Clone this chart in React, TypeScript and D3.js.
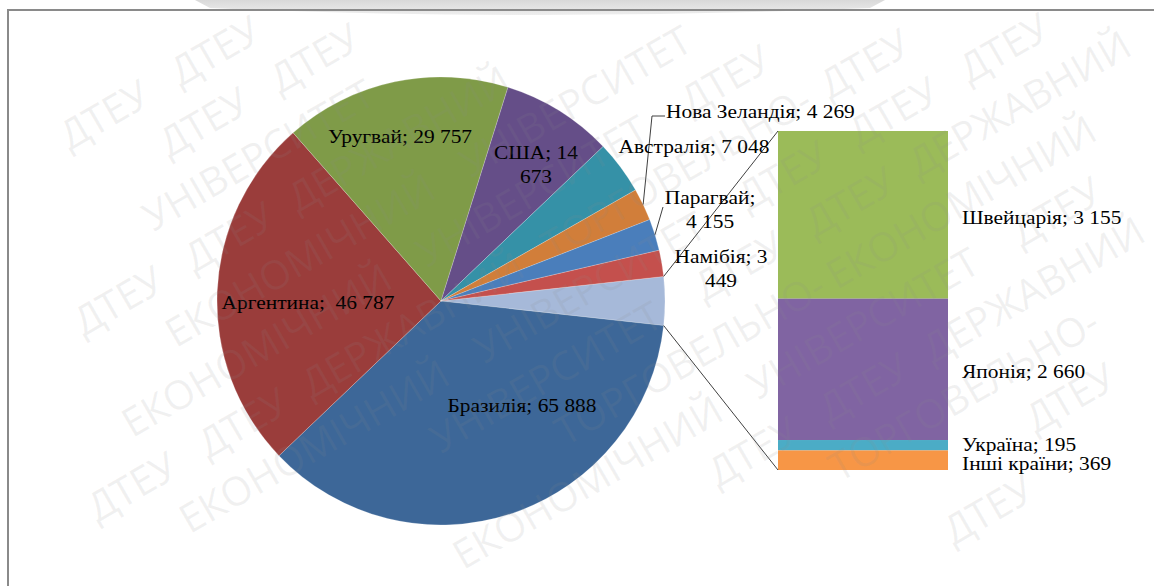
import React from "react";
import * as d3 from "d3";

const countries = ["Бразилія", "Аргентина", "Уругвай", "США", "Австралія", "Нова Зеландія", "Парагвай", "Намібія"];
const values = [65888, 46787, 29757, 14673, 7048, 4269, 4155, 3449];
const pieColors = ["#3D6798", "#9A3D3B", "#7F9B48", "#654E88", "#3591A7", "#D17E3A", "#4A7EBB", "#C4504D"];
const otherColor = "#A6B9D9";

const otherCountries = ["Швейцарія", "Японія", "Україна", "Інші країни"];
const otherValues = [3155, 2660, 195, 369];
const barColors = ["#9BBB59", "#8064A2", "#4BACC6", "#F79646"];

const watermarkWords = ["ДТЕУ", "ДТЕУ", "ДЕРЖАВНИЙ", "ТОРГОВЕЛЬНО-", "ЕКОНОМІЧНИЙ", "УНІВЕРСИТЕТ"];

// layout (positions of labels, not data)
const pieLabelLayout = [
  { x: 522, y: 406, anchor: "middle", split: 0, sep: "; " },
  { x: 308, y: 303, anchor: "middle", split: 0, sep: ";  " },
  { x: 400, y: 137, anchor: "middle", split: 0, sep: "; " },
  { x: 536, y: 153, anchor: "middle", split: 7, sep: "; " },
  { x: 694, y: 147, anchor: "middle", split: 0, sep: "; " },
  { x: 666, y: 112, anchor: "start", split: 0, sep: "; ", leader: true },
  { x: 710, y: 198, anchor: "middle", split: 9, sep: "; ", leader: true },
  { x: 721, y: 257, anchor: "middle", split: 10, sep: "; " },
];
const barLabelLayout = [
  { x: 962, y: 218 },
  { x: 962, y: 372 },
  { x: 962, y: 445 },
  { x: 962, y: 464 },
];

const W = 1154, H = 586;
const cx = 441, cy = 301, R = 224;
const barX = 778, barW = 170, barTop = 131, barBottom = 470;
const FONT = "'Liberation Serif', 'Times New Roman', serif";
const SX = 1.19;

const loc = d3.formatLocale({ decimal: ",", thousands: " ", grouping: [3], currency: ["", ""] });
const fmt = loc.format(",d");

function watermark() {
  const th = (-30 * Math.PI) / 180;
  const fs = 40;
  const cw = fs * 0.68;
  const out: { x: number; y: number; t: string }[] = [];
  const fits = (u: number, v: number, t: string) => {
    const w = t.length * cw;
    const uc = u + w / 2;
    const x = W / 2 + uc * Math.cos(th) - v * Math.sin(th);
    const y = H / 2 + uc * Math.sin(th) + v * Math.cos(th);
    const hx = Math.abs((w / 2) * Math.cos(th)) + Math.abs((fs / 2.8) * Math.sin(th));
    const hy = Math.abs((w / 2) * Math.sin(th)) + Math.abs((fs / 2.8) * Math.cos(th));
    return { ok: x - hx > 3 && x + hx < W - 3 && y - hy > 3 && y + hy < H - 3, x, y, w };
  };
  for (let r = -9; r <= 9; r++) {
    const v = r * 56;
    let u = -1300 + (((r * 173) % 300) + 300) % 300;
    let k = ((r * 2) % watermarkWords.length + watermarkWords.length) % watermarkWords.length;
    while (u < 1300) {
      let t = watermarkWords[k % watermarkWords.length];
      let f = fits(u, v, t);
      if (!f.ok) {
        const alt = fits(u, v, "ДТЕУ");
        if (alt.ok) {
          t = "ДТЕУ";
          f = alt;
        }
      }
      if (f.ok) out.push({ x: f.x, y: f.y, t });
      u += f.w + (t.endsWith("-") ? 0 : cw * 0.7);
      k++;
    }
  }
  return out;
}

export default function App() {
  const otherTotal = d3.sum(otherValues);
  const all = [otherTotal, ...values];
  const total = d3.sum(all);
  const otherAngle = (otherTotal / total) * Math.PI * 2;
  const start = Math.PI / 2 - otherAngle / 2;
  const arcs = d3.pie<number>().sort(null).value((d) => d).startAngle(start).endAngle(start + Math.PI * 2)(all);
  const arcGen = d3.arc<d3.PieArcDatum<number>>().innerRadius(0).outerRadius(R);
  const pt = (a: number, r: number) => [cx + r * Math.sin(a), cy - r * Math.cos(a)];

  const yScale = d3.scaleLinear().domain([0, otherTotal]).range([barTop, barBottom]);
  const cum = d3.cumsum(otherValues);

  const otherArc = arcs[0];
  const p1 = pt(otherArc.startAngle, R);
  const p2 = pt(otherArc.endAngle, R);
  const wm = watermark();

  return (
    <svg width={W} height={H} style={{ position: "absolute", left: 0, top: 0, background: "#fff" }}>
      <defs>
        <linearGradient id="logoGrad" x1="0" y1="0" x2="0" y2="1">
          <stop offset="0" stopColor="#d9d9d9" />
          <stop offset="1" stopColor="#eeeeee" />
        </linearGradient>
      </defs>
      <rect x={0} y={0} width={W} height={H} fill="#fff" />
      <path d="M195,0 L885,0 L870,8 Q540,22 210,8 Z" fill="url(#logoGrad)" />
      <rect x={8} y={10} width={W} height={H} fill="none" stroke="#8a8a8a" strokeWidth={2} />
      <g>
        {arcs.map((a, i) => (
          <path
            key={i}
            d={arcGen(a) || ""}
            transform={`translate(${cx},${cy})`}
            fill={i === 0 ? otherColor : pieColors[i - 1]}
            stroke="#ffffff"
            strokeOpacity={0.35}
            strokeWidth={0.6}
          />
        ))}
      </g>
      <g>
        {otherValues.map((v, i) => (
          <rect
            key={i}
            x={barX}
            width={barW}
            y={yScale(cum[i] - v)}
            height={yScale(cum[i]) - yScale(cum[i] - v)}
            fill={barColors[i]}
          />
        ))}
      </g>
      <line x1={p1[0]} y1={p1[1]} x2={barX} y2={yScale(0)} stroke="#404040" strokeWidth={1} />
      <line x1={p2[0]} y1={p2[1]} x2={barX} y2={yScale(otherTotal)} stroke="#404040" strokeWidth={1} />
      {pieLabelLayout.map((l, i) => {
        if (!l.leader) return null;
        const a = arcs[i + 1];
        const m = (a.startAngle + a.endAngle) / 2;
        const e = pt(m, R);
        if (l.anchor === "start") {
          return (
            <polyline key={i} points={`${l.x - 1},${l.y + 4} ${l.x - 14},${l.y + 4} ${e[0]},${e[1]}`} fill="none" stroke="#404040" strokeWidth={1} />
          );
        }
        return <line key={i} x1={l.x - 47} y1={l.y + 9} x2={e[0]} y2={e[1]} stroke="#404040" strokeWidth={1} />;
      })}
      <g fontFamily={FONT} fontSize={18} fill="#000">
        {countries.map((c, i) => {
          const l = pieLabelLayout[i];
          const full = `${c}${l.sep}${fmt(values[i])}`;
          const lines = l.split ? [full.slice(0, l.split), full.slice(l.split).trim()] : [full];
          return (
            <text
              key={i}
              transform={`translate(${l.x},${l.y}) scale(${SX},1)`}
              textAnchor={l.anchor as any}
              style={{ whiteSpace: "pre" }}
              dominantBaseline="central"
            >
              {lines.map((t, j) => (
                <tspan key={j} x={0} dy={j === 0 ? 0 : 24}>
                  {t}
                </tspan>
              ))}
            </text>
          );
        })}
        {otherCountries.map((c, i) => (
          <text
            key={i}
            transform={`translate(${barLabelLayout[i].x},${barLabelLayout[i].y}) scale(${SX},1)`}
            dominantBaseline="central"
          >
            {`${c}; ${fmt(otherValues[i])}`}
          </text>
        ))}
      </g>
      <g fontFamily="'Open Sans', 'Noto Sans', sans-serif" fontSize={40} fill="#8c8c8c" fillOpacity={0.12} textAnchor="middle" dominantBaseline="central">
        {wm.map((d, i) => (
          <text key={i} transform={`translate(${d.x},${d.y}) rotate(-30)`}>
            {d.t}
          </text>
        ))}
      </g>
    </svg>
  );
}
